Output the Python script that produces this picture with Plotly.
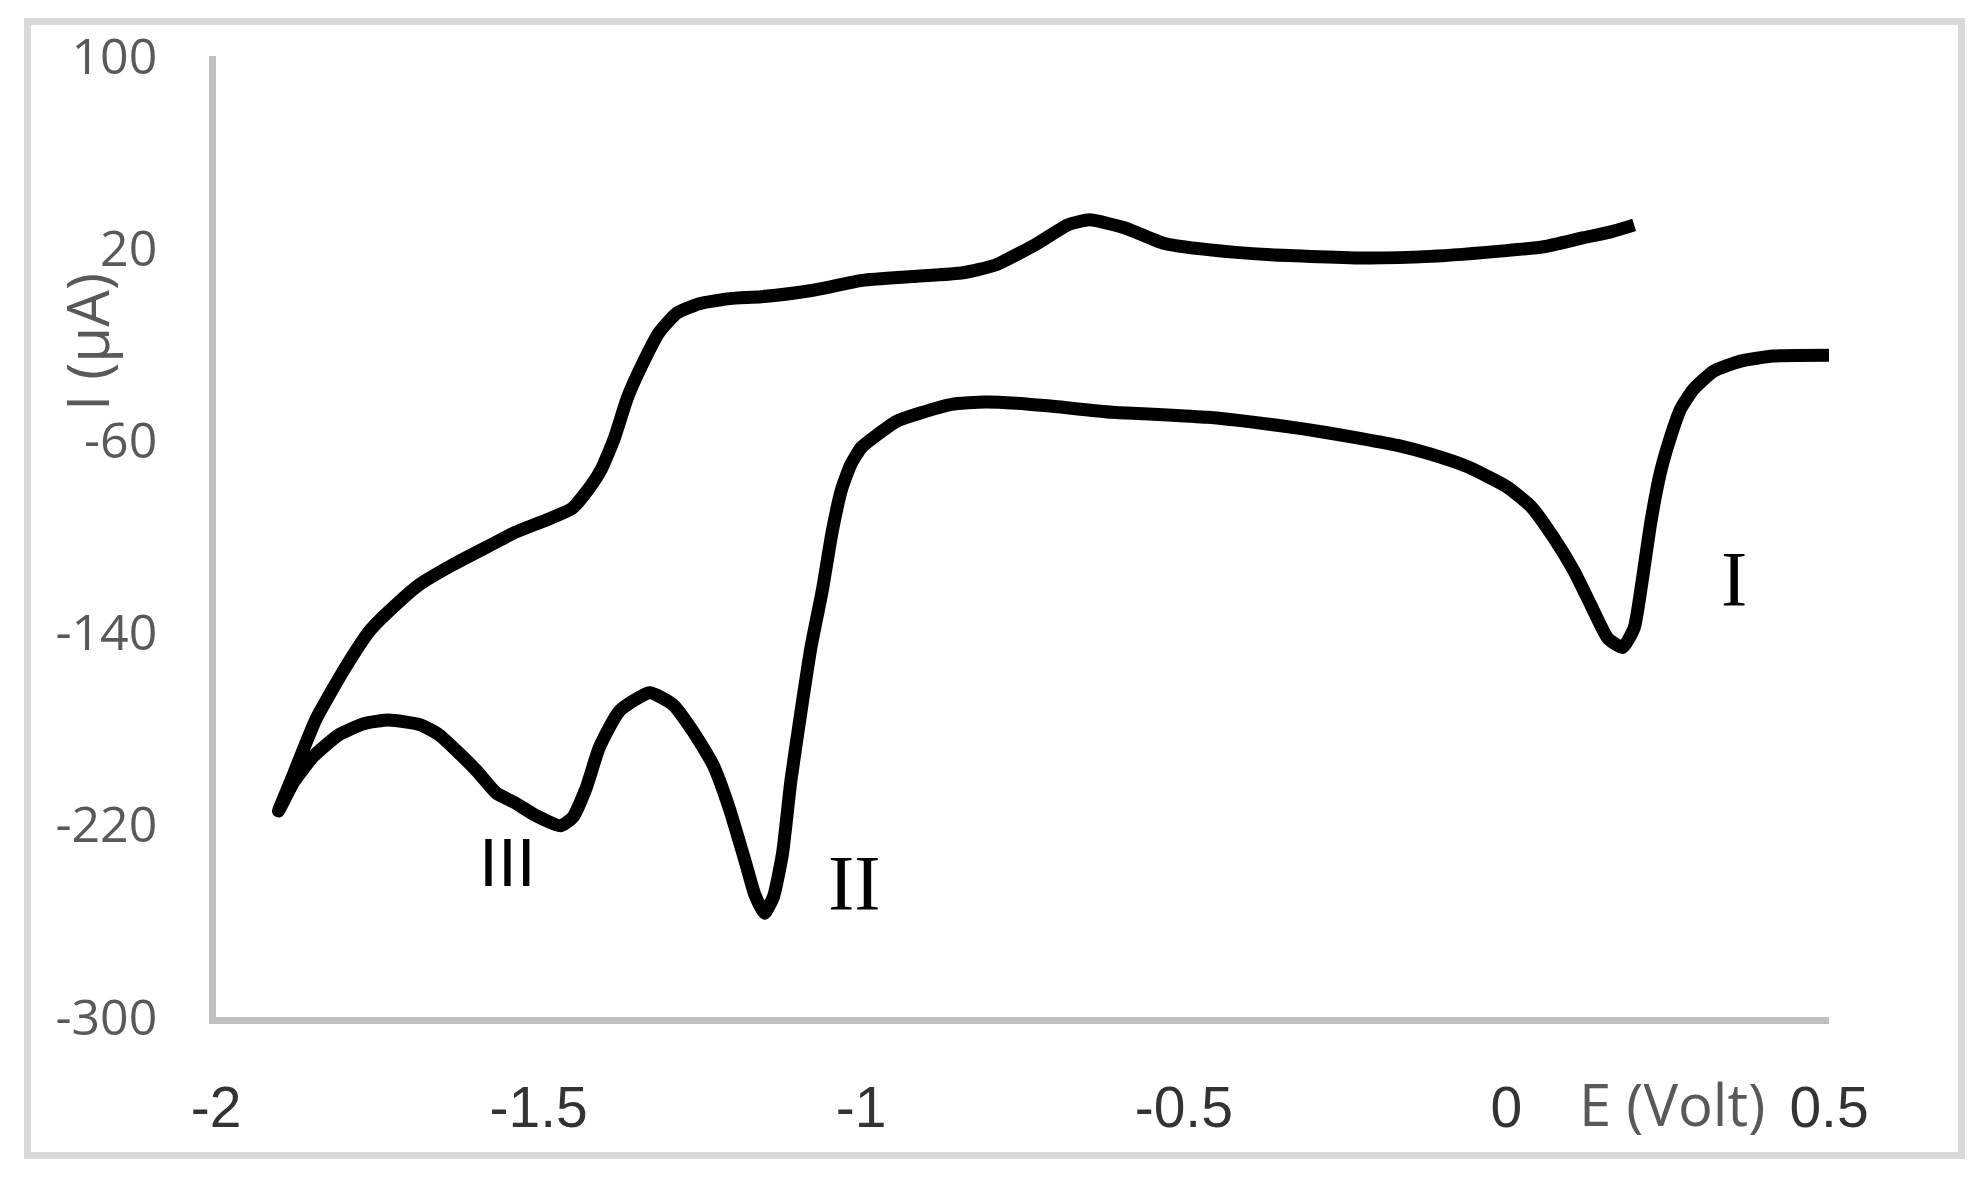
import plotly.graph_objects as go

# Barrido catódico (de 0.5 V hacia -1.9 V)
e_cathodic = [0.5, 0.414, 0.363, 0.321, 0.29, 0.27, 0.255, 0.239, 0.224, 0.211,
              0.198, 0.18, 0.157, 0.131, 0.105, 0.074, 0.038, 0.0, -0.06, -0.118,
              -0.167, -0.24, -0.315, -0.39, -0.463, -0.54, -0.611, -0.711, -0.76, -0.808,
              -0.86, -0.907, -0.945, -0.977, -1.0, -1.016, -1.03, -1.045, -1.06, -1.078,
              -1.094, -1.109, -1.122, -1.136, -1.15, -1.165, -1.179, -1.205, -1.23, -1.261,
              -1.292, -1.328, -1.375, -1.406, -1.426, -1.447, -1.466, -1.504, -1.537, -1.566,
              -1.595, -1.624, -1.654, -1.683, -1.732, -1.771, -1.81, -1.849, -1.879, -1.903]
i_cathodic = [-24.6, -24.9, -27, -31.2, -38.7, -46.9, -58.1, -73, -93.8, -117.4,
              -138.1, -146.2, -142.3, -128.6, -114.5, -100.8, -87.5, -79.2, -71, -65.7,
              -62.2, -58.5, -55.2, -52.5, -50.4, -49.2, -48.3, -45.6, -44.5, -44,
              -45, -48.5, -52, -58, -63, -70, -80, -98, -122, -146.4,
              -174.1, -201.7, -232, -250, -256.8, -249, -236, -212.7, -194.8, -181,
              -169.9, -165, -172.7, -187.9, -204.5, -216.9, -220.4, -216.2, -210.8, -206.7,
              -197.8, -190, -182.6, -178.4, -176.4, -177.9, -182.6, -191.5, -202, -214.2]

# Barrido anódico (regreso hasta 0.2 V)
e_anodic = [-1.88, -1.845, -1.8, -1.761, -1.722, -1.683, -1.634, -1.569, -1.536, -1.487,
            -1.448, -1.419, -1.403, -1.383, -1.362, -1.341, -1.313, -1.286, -1.251, -1.203,
            -1.155, -1.077, -0.998, -0.92, -0.842, -0.793, -0.73, -0.68, -0.646, -0.591,
            -0.533, -0.463, -0.365, -0.217, -0.118, 0.0, 0.058, 0.12, 0.162, 0.198]
i_anodic = [-199, -176, -154.8, -139, -128.6, -119.7, -111.9, -102.8, -98.2, -93,
            -88.3, -78.9, -72.1, -59.4, -42, -29.3, -15, -7.1, -3.1, -1,
            -0.2, 2.4, 6.6, 8.2, 9.8, 12.9, 21.5, 29.7, 31.8, 28.4,
            22.2, 19.4, 17.3, 15.9, 16.6, 19.0, 20.6, 24.4, 26.8, 29.7]

x_ticks = [-2, -1.5, -1, -0.5, 0, 0.5]
x_tick_labels = ["-2", "-1.5", "-1", "-0.5", "0", "0.5"]
y_ticks = [100, 20, -60, -140, -220, -300]
y_tick_labels = ["100", "20", "-60", "-140", "-220", "-300"]

# Etiquetas de los picos
peak_names = ["I", "II", "III"]
peak_e = [0.352, -1.011, -1.548]
peak_i = [-117.4, -244.2, -235.3]

W, H = 1983, 1179
L, R, T, B = 208, 162, 48, 170
OFFSET = 8  # margen por defecto del <body> en la pagina


def px_to_paper(px, py):
    # convierte pixeles de la captura a coordenadas "paper"
    return ((px - OFFSET - L) / (W - L - R),
            (H - B + OFFSET - py) / (H - T - B))


fig = go.Figure(
    data=[
        go.Scatter(
            x=e_cathodic + e_anodic,
            y=i_cathodic + i_anodic,
            mode="lines",
            line=dict(color="black", width=13, shape="spline", smoothing=0.5),
            showlegend=False,
        )
    ]
)

for name, e, i in zip(peak_names, peak_e, peak_i):
    fam = "Liberation Sans" if name == "III" else "Liberation Serif"
    size = 68 if name == "III" else 79
    fig.add_annotation(x=e, y=i, xref="x", yref="y", text=name, showarrow=False,
                       xanchor="center", yanchor="middle",
                       font=dict(family=fam, size=size, color="black"))

# Titulos de ejes como anotaciones (como en el original)
xt, yt = px_to_paper(1672, 1103)
fig.add_annotation(x=xt, y=yt, xref="paper", yref="paper", text="E (Volt)",
                   showarrow=False, xanchor="center", yanchor="middle",
                   font=dict(family="Open Sans", size=58, color="#595959"))
xt, yt = px_to_paper(87, 342)
fig.add_annotation(x=xt, y=yt, xref="paper", yref="paper", text="I (µA)", textangle=-90,
                   showarrow=False, xanchor="center", yanchor="middle",
                   font=dict(family="Open Sans", size=58, color="#595959"))

# Marco exterior gris
x0, y0 = px_to_paper(27.5, 1155.5)
x1, y1 = px_to_paper(1961.5, 21.5)
fig.add_shape(type="rect", xref="paper", yref="paper", x0=x0, y0=y0, x1=x1, y1=y1,
              line=dict(color="#d9d9d9", width=7), layer="below")

fig.update_layout(
    width=W,
    height=H,
    plot_bgcolor="white",
    paper_bgcolor="white",
    margin=dict(l=L, r=R, t=T, b=B),
    xaxis=dict(
        range=[-2, 0.5],
        tickvals=x_ticks,
        ticktext=x_tick_labels,
        showgrid=False,
        zeroline=False,
        showline=True,
        linecolor="#bfbfbf",
        linewidth=6.5,
        ticks="",
        ticklabelstandoff=35,
        automargin=False,
        tickfont=dict(family="Liberation Sans", size=57, color="#333333"),
    ),
    yaxis=dict(
        range=[-300, 100],
        tickvals=y_ticks,
        ticktext=y_tick_labels,
        showgrid=False,
        zeroline=False,
        showline=True,
        linecolor="#bfbfbf",
        linewidth=6.5,
        ticks="",
        ticklabelstandoff=42,
        automargin=False,
        tickfont=dict(family="Open Sans", size=50, color="#595959"),
    ),
)

fig.write_html("out.html")
